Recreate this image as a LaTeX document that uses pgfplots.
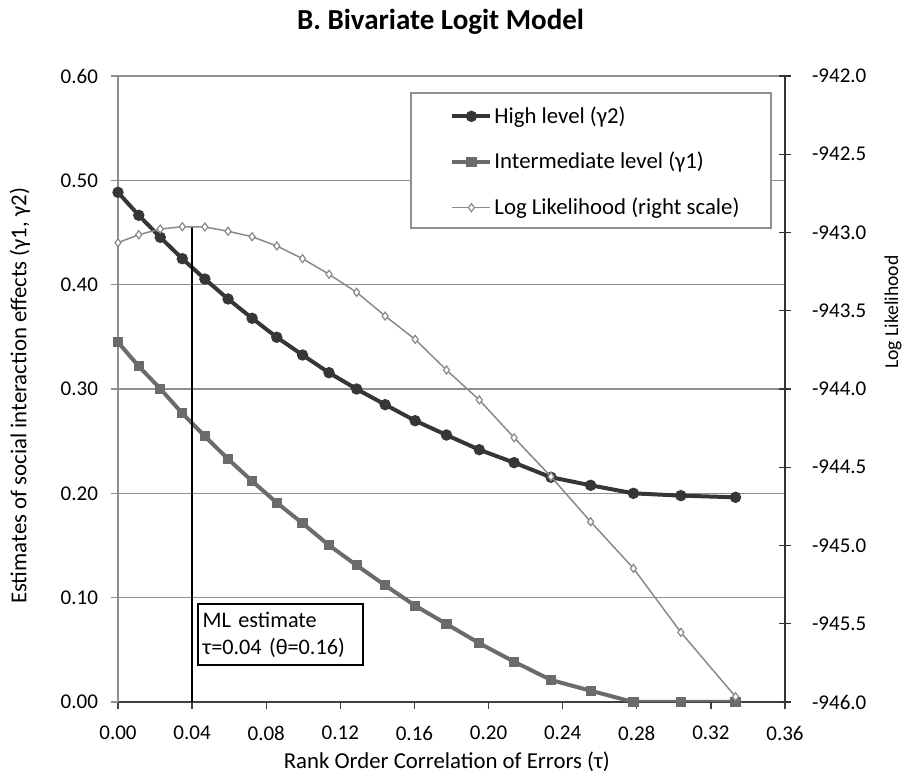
\documentclass[border=0pt]{standalone}
\usepackage{fontspec}
\setmainfont{Carlito}
\usepackage{pgfplots}
\usepackage{pgfplotstable}
\pgfplotsset{compat=1.18}

\definecolor{hicol}{HTML}{363636}
\definecolor{midcol}{HTML}{6B6B6B}
\definecolor{llcol}{HTML}{8A8A8A}
\definecolor{gridcol}{HTML}{8E8E8E}

% tau, gamma2 (high), gamma1 (intermediate), log likelihood
\pgfplotstableread{
tau    g2     g1     ll
0.0000 0.4885 0.3448 -943.065
0.0112 0.4665 0.3218 -943.014
0.0228 0.4454 0.3003 -942.978
0.0347 0.4249 0.2767 -942.963
0.0469 0.4054 0.2547 -942.965
0.0594 0.3863 0.2329 -942.992
0.0724 0.3678 0.2117 -943.027
0.0857 0.3496 0.1910 -943.086
0.0996 0.3326 0.1713 -943.167
0.1139 0.3156 0.1502 -943.267
0.1288 0.3000 0.1310 -943.382
0.1442 0.2850 0.1118 -943.534
0.1604 0.2696 0.0923 -943.683
0.1773 0.2559 0.0748 -943.879
0.1950 0.2418 0.0563 -944.070
0.2138 0.2294 0.0386 -944.311
0.2337 0.2154 0.0211 -944.560
0.2551 0.2077 0.0108 -944.848
0.2782 0.2000 0.0000 -945.146
0.3038 0.1978 0.0000 -945.555
0.3333 0.1962 0.0000 -945.966
}\datatable

\pgfplotsset{
  base/.style={
    at={(59pt,40pt)}, anchor=south west,
    scale only axis, width=333.5pt, height=313pt,
    xmin=0, xmax=0.36,
    scaled ticks=false,
    /pgf/number format/assume math mode=true,
    tick label style={font=\fontsize{10.5}{12}\selectfont},
    label style={font=\fontsize{11.4}{13}\selectfont},
  }
}

\begin{document}
\begin{tikzpicture}
\path[use as bounding box] (0,0) rectangle (455.5pt,391pt);

\begin{axis}[
  base,
  ymin=0, ymax=0.6,
  axis x line*=bottom, axis y line*=left,
  x axis line style={-, color=black!75, line width=0.8pt},
  y axis line style={-, color=gridcol, line width=0.7pt},
  xtick={0,0.04,0.08,0.12,0.16,0.2,0.24,0.28,0.32,0.36},
  ytick={0,0.1,0.2,0.3,0.4,0.5,0.6},
  tick align=outside, major tick length=3.5pt,
  x tick style={color=black!75, line width=0.7pt},
  y tick style={color=gridcol, line width=0.7pt},
  x tick label style={yshift=-5pt, /pgf/number format/.cd, fixed, fixed zerofill, precision=2, /tikz/.cd},
  y tick label style={xshift=-3pt, /pgf/number format/.cd, fixed, fixed zerofill, precision=2, /tikz/.cd},
  ymajorgrids,
  grid style={gridcol, line width=0.7pt},
  every axis title shift=0pt,
  title={B. Bivariate Logit Model},
  title style={at={(rel axis cs:0.4835,1.0746)}, anchor=base, font=\bfseries\fontsize{14.5}{17}\selectfont},
  xlabel={Rank Order Correlation of Errors (τ)},
  xlabel style={at={(rel axis cs:0.493,-0.0958)}, anchor=center},
  ylabel={Estimates of social interaction effects (γ1, γ2)},
  ylabel style={at={(rel axis cs:-0.147,0.489)}, anchor=center},
  legend style={at={(rel axis cs:0.4978,0.8626)}, anchor=west, draw=none, fill=none,
    inner sep=0pt, row sep=9pt, nodes={inner xsep=1pt},
    font=\fontsize{11.4}{13}\selectfont},
  legend cell align=left,
  legend image code/.code={\draw[mark repeat=2, mark phase=2, #1] plot coordinates {(0pt,0pt) (9.5pt,0pt) (19pt,0pt)};},
]
\addplot[hicol, line width=2pt, mark=*, mark size=2.6pt, mark options={fill=hicol, draw=hicol, line width=0.5pt}]
  table[x=tau, y=g2] {\datatable};
\addlegendentry{High level (γ2)}
\addplot[midcol, line width=2pt, mark=square*, mark size=2.3pt, mark options={fill=midcol, draw=midcol, line width=0.5pt}]
  table[x=tau, y=g1] {\datatable};
\addlegendentry{Intermediate level (γ1)}
\addlegendimage{llcol, line width=0.75pt, mark=diamond*, mark size=2pt, mark options={fill=white, draw=llcol, line width=0.6pt}}
\addlegendentry{Log Likelihood (right scale)}
% ML estimate marker line
\addplot[black, line width=1pt, forget plot] coordinates {(0.04,0) (0.04,0.4556)};
\filldraw[fill=white, draw=gridcol, line width=0.7pt]
  (rel axis cs:0.4393,0.9728) rectangle (rel axis cs:0.979,0.7572);
\node[draw=black, line width=0.8pt, fill=white, anchor=north west, align=left,
  inner xsep=2.5pt, inner ysep=4pt, text width=77.5pt,
  font=\fontsize{11.1}{13.5}\selectfont]
  at (axis cs:0.0426,0.0949) {ML estimate\\τ=0.04 (θ=0.16)};
\end{axis}

\begin{axis}[
  base,
  ymin=-946, ymax=-942,
  axis x line=none, axis y line*=right,
  y axis line style={-, color=black!80, line width=0.8pt},
  ytick={-946,-945.5,-945,-944.5,-944,-943.5,-943,-942.5,-942},
  tick align=center, major tick length=6pt,
  y tick style={color=black!80, line width=0.7pt},
  y tick label style={xshift=7pt, /pgf/number format/.cd, fixed, fixed zerofill, precision=1, /tikz/.cd},
  ylabel={Log Likelihood},
  ylabel style={at={(rel axis cs:1.162,0.623)}, anchor=center, font=\fontsize{9.8}{12}\selectfont},
]
\addplot[llcol, line width=0.75pt, mark=diamond*, mark size=2pt, mark options={fill=white, draw=llcol, line width=0.6pt}]
  table[x=tau, y=ll] {\datatable};
\end{axis}
\end{tikzpicture}
\end{document}
